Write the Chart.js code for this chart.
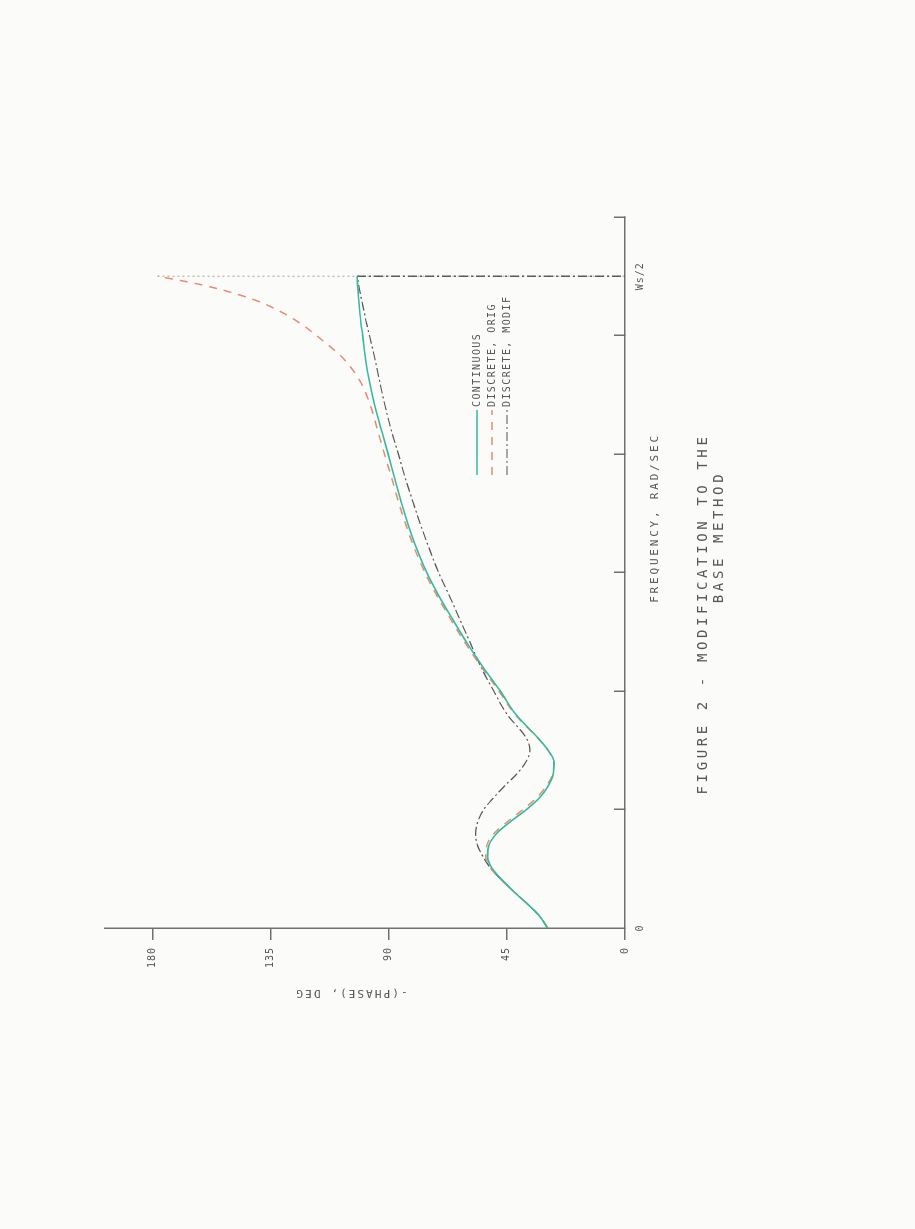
<!DOCTYPE html>
<html><head><meta charset="utf-8">
<script src="https://cdn.jsdelivr.net/npm/chart.js@4"></script>
<style>
html,body{margin:0;padding:0;background:#fbfbfa;width:915px;height:1229px;overflow:hidden;}
#wrap{position:absolute;left:0;top:0;width:1229px;height:915px;transform-origin:0 0;transform:translate(0px,1229px) rotate(-90deg);}
canvas{display:block}
</style></head><body>
<div id="wrap"><canvas id="c" width="1229" height="915"></canvas></div>
<script>
// ---- data (frequency in axis units, Ws/2 = 5.5; phase in degrees) ----
const freq = [0,0.1,0.2,0.3,0.4,0.5,0.6,0.7,0.8,0.9,1.0,1.1,1.2,1.3,1.4,1.5,1.6,1.8,2.0,2.2,2.4,2.6,2.8,3.0,3.2,3.4,3.6,3.8,4.0,4.2,4.4,4.6,4.8,5.0,5.1,5.2,5.3,5.4,5.45,5.5];
const phaseContinuous = [29.5,32.5,37,42,46.5,50.5,52.3,51.8,48.8,43.5,37.5,32.5,29.2,27.3,27,29.3,33,41.5,47.5,54,60,65.5,70.8,75.5,79.3,82.5,85.3,87.8,90.2,92.7,95.2,97.2,98.8,99.9,100.5,101,101.4,101.7,101.9,102];
const phaseOrig = [29.5,32.5,37,42,46.8,51,53,52.6,49.8,44.6,38.8,33.6,29.9,27.5,27.1,29.4,33.1,41.8,48,54.6,60.7,66.2,71.5,76.2,80.1,83.4,86.3,88.9,91.6,94.2,96.8,100.5,107,117.5,123.5,131,141,156,166,178];
const phaseModif = [29.5,32.5,37,42,46.8,51,54,56.2,56.9,56,53.8,50,45.8,41.2,37.8,36.2,37.5,44.8,50,54.8,58.8,62.8,66.8,71,74.5,77.8,80.8,83.7,86.3,89,91.3,93.3,95.2,97.3,98.4,99.3,100.3,101.2,101.6,102];
const wrapFreq = [5.5, 5.5];
const wrapOrigPhase = [178, 0];
const wrapModifPhase = [102, 0];
const seriesNames = ['CONTINUOUS', 'DISCRETE, ORIG', 'DISCRETE, MODIF'];
const freqTickValues = [0, 1, 2, 3, 4, 5, 5.5, 6];
const freqTickText = ['0', '', '', '', '', '', 'Ws/2', ''];
const phaseTicks = [0, 45, 90, 135, 180];
const xTitle = 'FREQUENCY, RAD/SEC';
const yTitle = '-(PHASE), DEG';
const captionLines = ['FIGURE 2 - MODIFICATION TO THE', 'BASE METHOD'];

const AXIS = '#707070', TXT = '#585858';
const FONT = '"DejaVu Sans Mono", "Liberation Mono", monospace';
const zip = (xs, ys) => xs.map((x, i) => ({x: x, y: ys[i]}));

const textPlugin = {
  id: 'texts',
  beforeDraw(chart) { chart.ctx.letterSpacing = '1px'; },
  afterDraw(chart) {
    const ctx = chart.ctx, a = chart.chartArea;
    ctx.save();
    ctx.fillStyle = TXT;
    ctx.textBaseline = 'middle';
    // legend
    chart.data.datasets.slice(0, 3).forEach((ds, i) => {
      const y = a.top + 372 + i * 15;
      ctx.save();
      ctx.strokeStyle = ds.borderColor;
      ctx.lineWidth = ds.borderWidth;
      ctx.setLineDash(ds.borderDash || []);
      ctx.beginPath(); ctx.moveTo(a.left + 453, y); ctx.lineTo(a.left + 518, y); ctx.stroke();
      ctx.restore();
      ctx.font = '10px ' + FONT; ctx.letterSpacing = '1.4px'; ctx.textAlign = 'left';
      ctx.fillText(ds.label, a.left + 521, y);
    });
    // frequency axis title
    ctx.font = '11px ' + FONT; ctx.letterSpacing = '2.8px'; ctx.textAlign = 'center';
    ctx.fillText(xTitle, a.left + 410, a.bottom + 30);
    // caption
    ctx.font = '14px ' + FONT; ctx.letterSpacing = '3.6px';
    ctx.fillText(captionLines[0], a.left + 314, a.bottom + 78);
    ctx.fillText(captionLines[1], a.left + 391, a.bottom + 94);
    // phase axis title (rotated)
    ctx.translate(a.left - 65, a.top + 246);
    ctx.rotate(-Math.PI / 2);
    ctx.font = '11px ' + FONT; ctx.letterSpacing = '2.1px';
    ctx.fillText(yTitle, 0, 0);
    ctx.restore();
  }
};

new Chart(document.getElementById('c'), {
  type: 'line',
  data: {
    datasets: [
      {label: seriesNames[0], data: zip(freq, phaseContinuous), borderColor: '#36b99f', borderWidth: 1.6, pointRadius: 0, cubicInterpolationMode: 'monotone', order: 1},
      {label: seriesNames[1], data: zip(freq, phaseOrig), borderColor: '#e98a6e', borderWidth: 1.5, borderDash: [8, 7], pointRadius: 0, cubicInterpolationMode: 'monotone', order: 2},
      {label: seriesNames[2], data: zip(freq, phaseModif), borderColor: '#555555', borderWidth: 1.2, borderDash: [9, 3, 2, 3], pointRadius: 0, cubicInterpolationMode: 'monotone', order: 3},
      {label: '', data: zip(wrapFreq, wrapOrigPhase), borderColor: '#b5b5b5', borderWidth: 1.3, borderDash: [2, 3], pointRadius: 0, tension: 0, order: 5},
      {label: '', data: zip(wrapFreq, wrapModifPhase), borderColor: '#555555', borderWidth: 1.4, borderDash: [9, 3, 2, 3], pointRadius: 0, tension: 0, order: 4}
    ]
  },
  options: {
    responsive: false, animation: false, devicePixelRatio: 1,
    layout: {padding: {left: 0, right: 217, top: 105, bottom: 0}},
    plugins: {legend: {display: false}, tooltip: {enabled: false}},
    scales: {
      x: {
        type: 'linear', min: 0, max: 6, position: 'bottom',
        afterBuildTicks: s => { s.ticks = freqTickValues.map(v => ({value: v})); },
        afterFit: s => { s.height = 290; },
        grid: {drawOnChartArea: false, drawTicks: true, tickLength: -11, lineWidth: 1.5,
               tickColor: c => (c.tick && (c.tick.value === 0 || c.tick.value === 5.5)) ? 'rgba(0,0,0,0)' : AXIS},
        border: {color: AXIS, width: 1.5},
        ticks: {padding: 20, maxRotation: 0, minRotation: 0, autoSkip: false, color: TXT,
                font: {family: FONT, size: 10},
                callback: v => { const i = freqTickValues.indexOf(v); return i >= 0 ? freqTickText[i] : ''; }}
      },
      y: {
        type: 'linear', min: 0, max: 198,
        afterBuildTicks: s => { s.ticks = phaseTicks.map(v => ({value: v})); },
        afterFit: s => { s.width = 301; },
        grid: {drawOnChartArea: false, drawTicks: true, tickLength: 12, lineWidth: 1.5, tickColor: AXIS},
        border: {color: AXIS, width: 1.5},
        ticks: {padding: 7, color: TXT, font: {family: FONT, size: 10}, callback: v => String(v)}
      }
    }
  },
  plugins: [textPlugin]
});
</script>
</body></html>
